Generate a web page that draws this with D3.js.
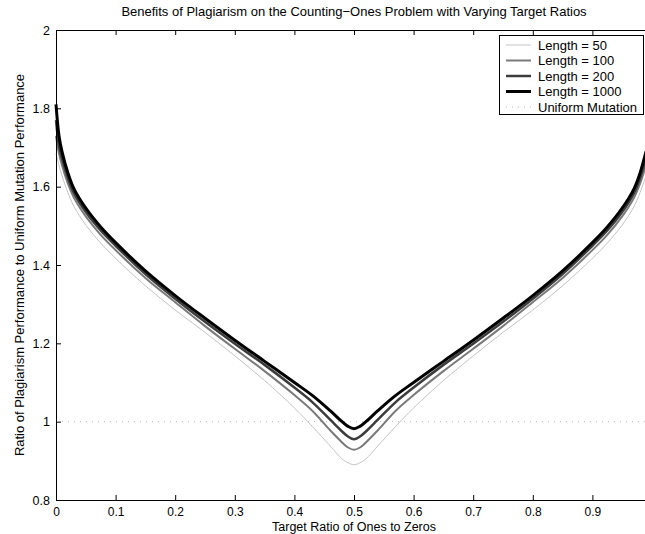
<!DOCTYPE html>
<html>
<head>
<meta charset="utf-8">
<script src="https://cdn.jsdelivr.net/npm/d3@7"></script>
<style>
  body { margin: 0; background: #fff; }
  svg { display: block; font-family: "Liberation Sans", Arial, sans-serif; }
</style>
</head>
<body>
<div id="chart"></div>
<script>
// target ratio sample points
const ratios = [0, 0.005, 0.01, 0.02, 0.03, 0.05, 0.075, 0.1, 0.15, 0.2, 0.25, 0.3, 0.35, 0.4, 0.43, 0.46, 0.48, 0.49, 0.5,
  0.51, 0.52, 0.54, 0.57, 0.6, 0.65, 0.7, 0.75, 0.8, 0.85, 0.9, 0.925, 0.95, 0.97, 0.98, 0.99];

const len50 = [1.685, 1.655, 1.628, 1.585, 1.55, 1.502, 1.456, 1.417, 1.347, 1.285, 1.228, 1.168, 1.105, 1.035, 0.988, 0.938, 0.905, 0.895, 0.89,
  0.895, 0.905, 0.938, 0.988, 1.035, 1.105, 1.168, 1.228, 1.285, 1.347, 1.417, 1.456, 1.502, 1.55, 1.585, 1.628];
const len100 = [1.73, 1.685, 1.655, 1.608, 1.572, 1.524, 1.477, 1.438, 1.367, 1.305, 1.244, 1.186, 1.129, 1.068, 1.028, 0.978, 0.947, 0.934, 0.928,
  0.934, 0.947, 0.978, 1.028, 1.068, 1.129, 1.186, 1.244, 1.305, 1.367, 1.438, 1.477, 1.524, 1.572, 1.608, 1.655];
const len200 = [1.77, 1.705, 1.672, 1.622, 1.584, 1.535, 1.488, 1.449, 1.377, 1.314, 1.255, 1.199, 1.145, 1.087, 1.05, 1.005, 0.975, 0.962, 0.955,
  0.962, 0.975, 1.005, 1.05, 1.087, 1.145, 1.199, 1.255, 1.314, 1.377, 1.449, 1.488, 1.535, 1.584, 1.622, 1.672];
const len1000 = [1.81, 1.73, 1.69, 1.635, 1.595, 1.545, 1.497, 1.457, 1.385, 1.322, 1.264, 1.208, 1.154, 1.10, 1.067, 1.028, 1.0, 0.988, 0.982,
  0.988, 1.0, 1.028, 1.067, 1.10, 1.154, 1.208, 1.264, 1.322, 1.385, 1.457, 1.497, 1.545, 1.595, 1.635, 1.69];

const uniform = 1;

const seriesNames = ["Length = 50", "Length = 100", "Length = 200", "Length = 1000", "Uniform Mutation"];
const xTicks = [0, 0.1, 0.2, 0.3, 0.4, 0.5, 0.6, 0.7, 0.8, 0.9];
const yTicks = [0.8, 1, 1.2, 1.4, 1.6, 1.8, 2];

const width = 645, height = 534;
const margin = { top: 30, left: 56, bottom: 34 };
const plotRight = 652; // axes box runs a bit past the window edge
const font = '"Liberation Sans", Arial, sans-serif';

const x = d3.scaleLinear().domain([0, 1]).range([margin.left, plotRight]);
const y = d3.scaleLinear().domain([0.8, 2]).range([height - margin.bottom, margin.top]);

const svg = d3.select('#chart')
  .append('svg')
  .attr('width', width)
  .attr('height', height);

const styles = [
  { data: len50, color: '#c4c4c4', w: 1 },
  { data: len100, color: '#7a7a7a', w: 2 },
  { data: len200, color: '#3c3c3c', w: 2.5 },
  { data: len1000, color: '#000000', w: 3 }
];

// uniform mutation baseline
svg.append('line')
  .attr('x1', x(0)).attr('x2', x(1))
  .attr('y1', y(uniform)).attr('y2', y(uniform))
  .attr('stroke', '#b8b8b8')
  .attr('stroke-width', 1)
  .attr('stroke-dasharray', '1,5');

const line = d3.line()
  .x((d, i) => x(ratios[i]))
  .y(d => y(d))
  .curve(d3.curveCatmullRom.alpha(0.5));

styles.forEach(s => {
  svg.append('path')
    .attr('d', line(s.data))
    .attr('fill', 'none')
    .attr('stroke', s.color)
    .attr('stroke-width', s.w)
    .attr('stroke-linejoin', 'round');
});

// axes with inward ticks (matlab style)
const xAxis = d3.axisBottom(x).tickValues(xTicks).tickSizeInner(-5).tickSizeOuter(0).tickPadding(7)
  .tickFormat(d3.format('~g'));
const yAxis = d3.axisLeft(y).tickValues(yTicks).tickSizeInner(-5).tickSizeOuter(0).tickPadding(6)
  .tickFormat(d3.format('~g'));

const gx = svg.append('g')
  .attr('transform', `translate(0,${y(0.8)})`)
  .call(xAxis);
const gy = svg.append('g')
  .attr('transform', `translate(${x(0)},0)`)
  .call(yAxis);

const gTop = svg.append('g')
  .attr('transform', `translate(0,${y(2)})`)
  .call(d3.axisTop(x).tickValues(xTicks).tickSizeInner(-5).tickSizeOuter(0).tickFormat(''));

[gx, gy, gTop].forEach(g => {
  g.selectAll('path').attr('stroke', '#000').attr('stroke-width', 1);
  g.selectAll('line').attr('stroke', '#000');
  g.selectAll('text').attr('fill', '#000').style('font-size', '12.5px')
    .style('font-family', font);
});
gx.selectAll('text').style('font-size', '12px');

// title and labels
svg.append('text')
  .attr('x', (x(0) + plotRight) / 2)
  .attr('y', 16)
  .attr('text-anchor', 'middle')
  .style('font-size', '13px')
  .text('Benefits of Plagiarism on the Counting\u2212Ones Problem with Varying Target Ratios');

svg.append('text')
  .attr('x', (x(0) + plotRight) / 2)
  .attr('y', 531)
  .attr('text-anchor', 'middle')
  .style('font-size', '12.5px')
  .text('Target Ratio of Ones to Zeros');

svg.append('text')
  .attr('transform', `translate(24,${(y(0.8) + y(2)) / 2}) rotate(-90)`)
  .attr('text-anchor', 'middle')
  .style('font-size', '13px')
  .text('Ratio of Plagiarism Performance to Uniform Mutation Performance');

// legend
const legend = svg.append('g');
legend.append('rect')
  .attr('x', 499.5).attr('y', 35.5)
  .attr('width', 144).attr('height', 79)
  .attr('fill', '#fff')
  .attr('stroke', '#000');

const legendItems = styles.concat([{ color: '#b8b8b8', w: 1, dash: '1,5' }]);
legendItems.forEach((s, i) => {
  const ly = 45 + i * 15.5;
  legend.append('line')
    .attr('x1', 506).attr('x2', 531)
    .attr('y1', ly).attr('y2', ly)
    .attr('stroke', s.color)
    .attr('stroke-width', s.w)
    .attr('stroke-dasharray', s.dash || null);
  legend.append('text')
    .attr('x', 538).attr('y', ly)
    .attr('dy', '0.35em')
    .style('font-size', '13px')
    .text(seriesNames[i]);
});
</script>
</body>
</html>
